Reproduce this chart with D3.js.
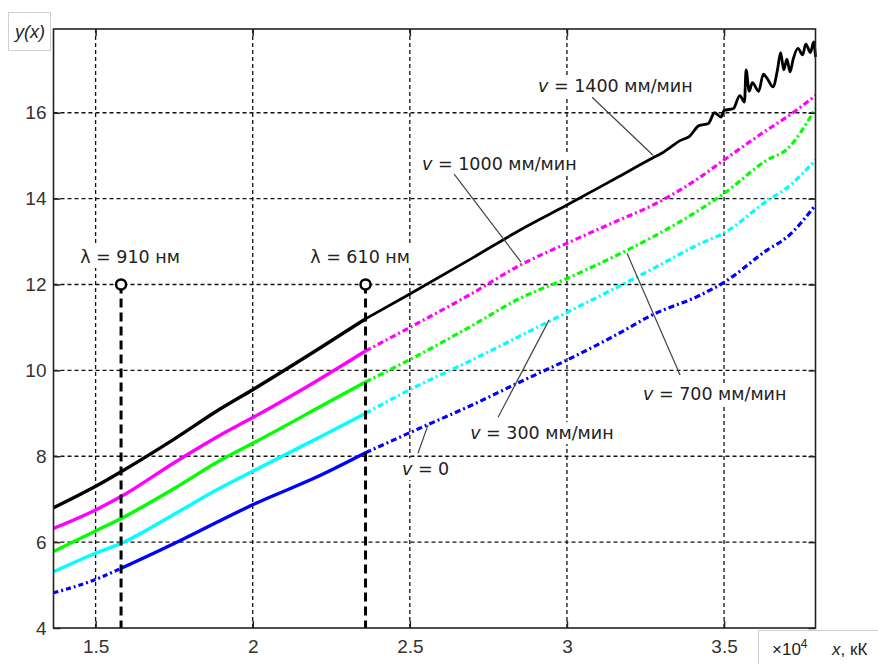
<!DOCTYPE html>
<html>
<head>
<meta charset="utf-8">
<script src="https://cdn.jsdelivr.net/npm/d3@7"></script>
<style>
  body { margin: 0; background: #fff; }
  svg { display: block; }
</style>
</head>
<body>
<div id="chart"></div>
<script>
// x values are in units of 10^4 (as on the axis)
let xs = [1.366, 1.5, 1.581, 1.75, 1.896, 2.0, 2.214, 2.359, 2.5, 2.7, 2.851, 3.0, 3.15, 3.274, 3.424, 3.5, 3.637, 3.7, 3.791];

let yV1000 = [6.32, 6.75, 7.06, 7.85, 8.49, 8.9, 9.8, 10.45, 11.0, 11.8, 12.45, 12.96, 13.45, 13.85, 14.5, 14.9, 15.6, 15.9, 16.4];
let yV700 = [5.78, 6.26, 6.55, 7.25, 7.9, 8.3, 9.15, 9.73, 10.25, 11.05, 11.68, 12.14, 12.65, 13.11, 13.75, 14.12, 14.9, 15.15, 16.1];
let yV300 = [5.31, 5.74, 5.97, 6.65, 7.26, 7.65, 8.45, 9.0, 9.55, 10.25, 10.8, 11.35, 11.9, 12.37, 12.95, 13.2, 13.95, 14.25, 14.9];
let yV0 = [4.82, 5.13, 5.39, 5.97, 6.5, 6.87, 7.55, 8.08, 8.55, 9.2, 9.73, 10.24, 10.8, 11.3, 11.75, 12.05, 12.8, 13.1, 13.85];

// v = 1400 is noisy at the end, so it has its own points
let xV1400 = [1.366, 1.5, 1.581, 1.75, 1.896, 2.0, 2.214, 2.359, 2.5, 2.7, 2.851, 3.0, 3.15, 3.274, 3.3, 3.33, 3.36, 3.39, 3.42, 3.45, 3.47, 3.49, 3.5,
              3.53, 3.55, 3.565, 3.57, 3.58, 3.59, 3.61, 3.625, 3.637, 3.656, 3.67, 3.68, 3.69, 3.7, 3.71, 3.72, 3.735, 3.75, 3.76, 3.775, 3.785, 3.791];
let yV1400 = [6.8, 7.3, 7.64, 8.4, 9.1, 9.55, 10.52, 11.2, 11.78, 12.62, 13.27, 13.85, 14.45, 14.95, 15.05, 15.2, 15.35, 15.45, 15.7, 15.75, 16.0, 15.9, 16.05,
              16.1, 16.4, 16.25, 17.0, 16.5, 16.7, 16.5, 16.9, 16.8, 16.6, 17.0, 17.4, 17.0, 17.25, 16.95, 17.25, 17.5, 17.35, 17.6, 17.4, 17.65, 17.3];

let xTicks = [1.5, 2, 2.5, 3, 3.5];
let yTicks = [4, 6, 8, 10, 12, 14, 16];

// wavelengths of the two marked lines, x = c2 / lambda
let lambdaX = [1.581, 2.359];
let lambdaNames = ["\u03bb = 910 нм", "\u03bb = 610 нм"];
let markY = 12;

let width = 878;
let height = 664;
let margin = { top: 29, right: 62.5, bottom: 36, left: 53.5 };
let chartWidth = width - margin.left - margin.right;
let chartHeight = height - margin.top - margin.bottom;

let svg = d3.select("#chart").append("svg")
    .attr("width", width)
    .attr("height", height);

let chart = svg.append("g").attr("transform", `translate(${margin.left}, ${margin.top})`);

let xScale = d3.scaleLinear().domain([1.366, 3.791]).range([0, chartWidth]);
let yScale = d3.scaleLinear().domain([4, 17.95]).range([chartHeight, 0]);

// dashed grid
let grid = chart.append("g");
grid.selectAll(".gx").data(xTicks).enter().append("line")
    .attr("x1", d => xScale(d)).attr("x2", d => xScale(d))
    .attr("y1", 0).attr("y2", chartHeight);
grid.selectAll(".gy").data(yTicks.slice(1)).enter().append("line")
    .attr("x1", 0).attr("x2", chartWidth)
    .attr("y1", d => yScale(d)).attr("y2", d => yScale(d));
grid.selectAll("line")
    .attr("stroke", "#111")
    .attr("stroke-width", 1.3)
    .attr("stroke-dasharray", "4,3");

// white boxes behind the labels go here
let boxes = chart.append("g");

// curves: dense part solid, sparse part dash-dot
let series = [
    { x: xV1400, y: yV1400, color: "#000000", sparseDash: null },
    { x: xs, y: yV1000, color: "#ff00ff", sparseDash: "6,3,2,3" },
    { x: xs, y: yV700, color: "#00ff00", sparseDash: "6,3,2,3" },
    { x: xs, y: yV300, color: "#00ffff", sparseDash: "6,3,2,3" },
    { x: xs, y: yV0, color: "#0000ff", sparseDash: "6,3,2,3" }
];

let line = d3.line()
    .curve(d3.curveMonotoneX)
    .x(d => xScale(d[0]))
    .y(d => yScale(d[1]));

series.forEach((s, k) => {
    let pts = s.x.map((v, i) => [v, s.y[i]]);
    let isBlue = k === 4;
    let startX = isBlue ? lambdaX[0] : s.x[0];
    let dense = pts.filter(p => p[0] >= startX && p[0] <= lambdaX[1]);
    let sparse = pts.filter(p => p[0] >= lambdaX[1]);
    chart.append("path").datum(dense)
        .attr("d", line)
        .attr("fill", "none")
        .attr("stroke", s.color)
        .attr("stroke-width", 3.4);
    chart.append("path").datum(sparse)
        .attr("d", line)
        .attr("fill", "none")
        .attr("stroke", s.color)
        .attr("stroke-width", s.sparseDash ? 3.2 : 2.8)
        .attr("stroke-dasharray", s.sparseDash);
    if (isBlue) {
        chart.append("path").datum(pts.filter(p => p[0] <= lambdaX[0]))
            .attr("d", line)
            .attr("fill", "none")
            .attr("stroke", s.color)
            .attr("stroke-width", 3.2)
            .attr("stroke-dasharray", "5,3,2,3");
    }
});

// lambda markers
chart.selectAll(".lam").data(lambdaX).enter().append("line")
    .attr("x1", d => xScale(d)).attr("x2", d => xScale(d))
    .attr("y1", yScale(markY)).attr("y2", chartHeight)
    .attr("stroke", "#000")
    .attr("stroke-width", 3)
    .attr("stroke-dasharray", "9,5");
chart.selectAll(".mark").data(lambdaX).enter().append("circle")
    .attr("cx", d => xScale(d))
    .attr("cy", yScale(markY))
    .attr("r", 5)
    .attr("fill", "#fff")
    .attr("stroke", "#000")
    .attr("stroke-width", 2.5);

// frame and inner ticks on all sides
chart.append("rect")
    .attr("width", chartWidth).attr("height", chartHeight)
    .attr("fill", "none").attr("stroke", "#222").attr("stroke-width", 1.6);

let tickLen = 7;
let bottomAxis = chart.append("g").attr("transform", `translate(0, ${chartHeight})`)
    .call(d3.axisBottom(xScale).tickValues(xTicks).tickSize(-tickLen).tickPadding(14).tickFormat(d => d));
let topAxis = chart.append("g")
    .call(d3.axisTop(xScale).tickValues(xTicks).tickSize(-tickLen).tickFormat(""));
let leftAxis = chart.append("g")
    .call(d3.axisLeft(yScale).tickValues(yTicks).tickSize(-tickLen).tickPadding(7).tickFormat(d => d));
let rightAxis = chart.append("g").attr("transform", `translate(${chartWidth}, 0)`)
    .call(d3.axisRight(yScale).tickValues(yTicks).tickSize(-tickLen).tickFormat(""));

[bottomAxis, topAxis, leftAxis, rightAxis].forEach(a => {
    a.select(".domain").remove();
    a.selectAll("line").attr("stroke", "#222").attr("stroke-width", 1.5);
    a.selectAll("text")
        .attr("fill", "#333")
        .style("font-family", "'Liberation Sans', Arial, sans-serif")
        .style("font-size", "19px");
});
bottomAxis.selectAll("text").attr("dy", "0.71em").attr("y", 12);

// annotations
let labels = [
    { text: "1400 мм/мин", x: 2.908, y: 16.48, v: true },
    { text: "1000 мм/мин", x: 2.539, y: 14.66, v: true },
    { text: "700 мм/мин", x: 3.242, y: 9.31, v: true },
    { text: "300 мм/мин", x: 2.692, y: 8.40, v: true },
    { text: "0", x: 2.475, y: 7.56, v: true },
    { text: lambdaNames[0], x: 1.451, y: 12.5, v: false },
    { text: lambdaNames[1], x: 2.183, y: 12.5, v: false }
];

let leaders = [
    [3.080, 16.36, 3.274, 15.01],
    [2.641, 14.57, 2.854, 12.52],
    [3.191, 12.73, 3.360, 9.89],
    [2.943, 11.17, 2.781, 8.91],
    [2.558, 8.73, 2.526, 8.07]
];

chart.selectAll(".leader").data(leaders).enter().append("line")
    .attr("x1", d => xScale(d[0])).attr("y1", d => yScale(d[1]))
    .attr("x2", d => xScale(d[2])).attr("y2", d => yScale(d[3]))
    .attr("stroke", "#444")
    .attr("stroke-width", 1.2);

let texts = chart.selectAll(".lbl").data(labels).enter().append("text")
    .attr("x", d => xScale(d.x))
    .attr("y", d => yScale(d.y))
    .attr("fill", "#222")
    .style("font-family", "'DejaVu Sans', Verdana, sans-serif")
    .style("font-size", "17.5px");

texts.each(function(d) {
    let t = d3.select(this);
    if (d.v) {
        t.append("tspan").style("font-style", "italic").text("v");
        t.append("tspan").text(" = " + d.text);
    } else {
        t.text(d.text);
    }
});

texts.each(function() {
    let b = this.getBBox();
    boxes.append("rect")
        .attr("x", b.x - 2).attr("y", b.y - 1)
        .attr("width", b.width + 4).attr("height", b.height + 2)
        .attr("fill", "#fff");
});

// y(x) box at the top left
svg.append("rect")
    .attr("x", 8.5).attr("y", 12.5).attr("width", 42).attr("height", 38)
    .attr("fill", "#fff").attr("stroke", "#d0d0d0");
svg.append("text")
    .attr("x", 30).attr("y", 38)
    .attr("text-anchor", "middle")
    .attr("fill", "#222")
    .style("font-family", "'Liberation Sans', Arial, sans-serif")
    .style("font-style", "italic")
    .style("font-size", "18px")
    .text("y(x)");

// x unit box at the bottom right
svg.append("rect")
    .attr("x", 758.5).attr("y", 630.5).attr("width", 130).attr("height", 40)
    .attr("fill", "#fff").attr("stroke", "#d0d0d0");
let unit = svg.append("text")
    .attr("x", 772).attr("y", 655)
    .attr("fill", "#222")
    .style("font-family", "'Liberation Sans', Arial, sans-serif")
    .style("font-size", "17px");
unit.append("tspan").text("\u00d710");
unit.append("tspan").attr("dy", -7).style("font-size", "12px").text("4");
unit.append("tspan").attr("dy", 7).attr("x", 832).style("font-style", "italic").text("x");
unit.append("tspan").text(", кК");
</script>
</body>
</html>
